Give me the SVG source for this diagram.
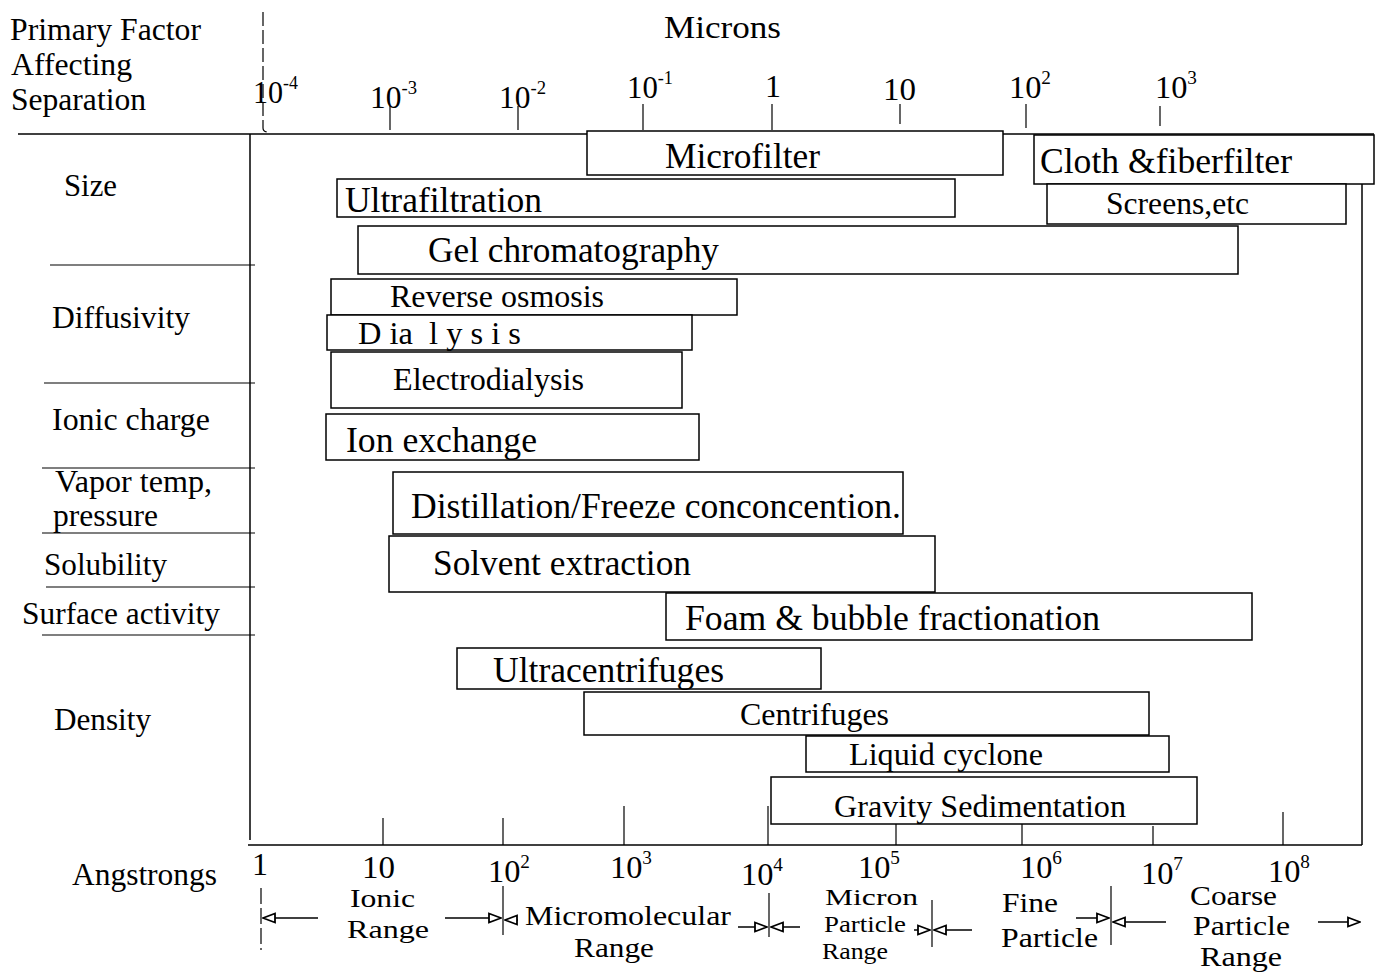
<svg xmlns="http://www.w3.org/2000/svg" width="1379" height="973" viewBox="0 0 1379 973">
<style>
text{font-family:"Liberation Serif","Times New Roman",serif;fill:#000}
.lbl{font-size:31px}
.box{fill:#fff;stroke:#000;stroke-width:1.5}
.bt{font-size:35px}
.bs{font-size:31px}
.ax{stroke:#000;stroke-width:1.5;fill:none}
.tk{stroke:#000;stroke-width:1.2;fill:none}
.ar{stroke:#000;stroke-width:1.5;fill:none;marker-end:url(#oh)}
.tl{font-size:32px}
.rl{font-size:28px}
.rs{font-size:26px}
.rx{font-size:24px}
.sup{font-size:19px}
</style>
<defs>
<marker id="oh" viewBox="0 0 14 12" refX="13" refY="6" markerWidth="14" markerHeight="12" markerUnits="userSpaceOnUse" orient="auto">
<path d="M1,1.5 L13,6 L1,10.5 Z" fill="#fff" stroke="#000" stroke-width="1.8"/>
</marker>
</defs>
<rect width="1379" height="973" fill="#fff"/>

<g id="frame">
<line class="ax" x1="18" y1="134" x2="1374" y2="134"/>
<line class="ax" x1="250" y1="134" x2="250" y2="840"/>
<line class="ax" x1="1362" y1="184" x2="1362" y2="845"/>
<line class="ax" x1="248" y1="845" x2="1362" y2="845"/>
<line class="tk" x1="50" y1="265" x2="255" y2="265"/>
<line class="tk" x1="44" y1="383" x2="255" y2="383"/>
<line class="tk" x1="42" y1="468" x2="255" y2="468"/>
<line class="tk" x1="42" y1="533" x2="255" y2="533"/>
<line class="tk" x1="46" y1="587" x2="255" y2="587"/>
<line class="tk" x1="42" y1="635" x2="255" y2="635"/>
<path class="tk" d="M263,12 L263,128 Q263,132 268,132" stroke-dasharray="14,4"/>
<line class="tk" x1="390" y1="106" x2="390" y2="130"/>
<line class="tk" x1="518" y1="106" x2="518" y2="130"/>
<line class="tk" x1="643" y1="104" x2="643" y2="130"/>
<line class="tk" x1="772" y1="104" x2="772" y2="130"/>
<line class="tk" x1="900" y1="104" x2="900" y2="124"/>
<line class="tk" x1="1026" y1="104" x2="1026" y2="128"/>
<line class="tk" x1="1160" y1="106" x2="1160" y2="126"/>
<line class="tk" x1="383" y1="818" x2="383" y2="845"/>
<line class="tk" x1="503" y1="818" x2="503" y2="845"/>
<line class="tk" x1="624" y1="806" x2="624" y2="845"/>
<line class="tk" x1="768" y1="806" x2="768" y2="845"/>
<line class="tk" x1="896" y1="812" x2="896" y2="845"/>
<line class="tk" x1="1022" y1="812" x2="1022" y2="845"/>
<line class="tk" x1="1153" y1="826" x2="1153" y2="845"/>
<line class="tk" x1="1283" y1="812" x2="1283" y2="845"/>
</g>

<g id="headers">
<text class="lbl" x="10" y="40" textLength="191" lengthAdjust="spacingAndGlyphs">Primary Factor</text>
<text class="lbl" x="11" y="75" textLength="121" lengthAdjust="spacingAndGlyphs">Affecting</text>
<text class="lbl" x="11" y="110" textLength="135" lengthAdjust="spacingAndGlyphs">Separation</text>
<text class="tl" x="664" y="38" textLength="117" lengthAdjust="spacingAndGlyphs">Microns</text>
<text class="lbl" x="72" y="885" textLength="145" lengthAdjust="spacingAndGlyphs">Angstrongs</text>
</g>

<g id="factors">
<text class="lbl" x="64" y="196" textLength="53" lengthAdjust="spacingAndGlyphs">Size</text>
<text class="lbl" x="52" y="328" textLength="138" lengthAdjust="spacingAndGlyphs">Diffusivity</text>
<text class="lbl" x="52" y="430" textLength="158" lengthAdjust="spacingAndGlyphs">Ionic charge</text>
<text class="lbl" x="55" y="492" textLength="157" lengthAdjust="spacingAndGlyphs">Vapor temp,</text>
<text class="lbl" x="53" y="526" textLength="105" lengthAdjust="spacingAndGlyphs">pressure</text>
<text class="lbl" x="44" y="575" textLength="123" lengthAdjust="spacingAndGlyphs">Solubility</text>
<text class="lbl" x="22" y="624" textLength="198" lengthAdjust="spacingAndGlyphs">Surface activity</text>
<text class="lbl" x="54" y="730" textLength="97" lengthAdjust="spacingAndGlyphs">Density</text>
</g>

<g id="micron-scale">
<text class="tl" x="253" y="103" textLength="45" lengthAdjust="spacingAndGlyphs">10<tspan class="sup" dy="-14">-4</tspan></text>
<text class="tl" x="370" y="108" textLength="47" lengthAdjust="spacingAndGlyphs">10<tspan class="sup" dy="-14">-3</tspan></text>
<text class="tl" x="499" y="108" textLength="47" lengthAdjust="spacingAndGlyphs">10<tspan class="sup" dy="-14">-2</tspan></text>
<text class="tl" x="627" y="98" textLength="46" lengthAdjust="spacingAndGlyphs">10<tspan class="sup" dy="-14">-1</tspan></text>
<text class="tl" x="765" y="97">1</text>
<text class="tl" x="883" y="100" textLength="33" lengthAdjust="spacingAndGlyphs">10</text>
<text class="tl" x="1009" y="98" textLength="42" lengthAdjust="spacingAndGlyphs">10<tspan class="sup" dy="-14">2</tspan></text>
<text class="tl" x="1155" y="98" textLength="42" lengthAdjust="spacingAndGlyphs">10<tspan class="sup" dy="-14">3</tspan></text>
</g>

<g id="angstrom-scale">
<text class="tl" x="252" y="875">1</text>
<text class="tl" x="362" y="878" textLength="33" lengthAdjust="spacingAndGlyphs">10</text>
<text class="tl" x="488" y="882" textLength="42" lengthAdjust="spacingAndGlyphs">10<tspan class="sup" dy="-14">2</tspan></text>
<text class="tl" x="610" y="878" textLength="42" lengthAdjust="spacingAndGlyphs">10<tspan class="sup" dy="-14">3</tspan></text>
<text class="tl" x="741" y="885" textLength="42" lengthAdjust="spacingAndGlyphs">10<tspan class="sup" dy="-14">4</tspan></text>
<text class="tl" x="858" y="878" textLength="42" lengthAdjust="spacingAndGlyphs">10<tspan class="sup" dy="-14">5</tspan></text>
<text class="tl" x="1020" y="878" textLength="42" lengthAdjust="spacingAndGlyphs">10<tspan class="sup" dy="-14">6</tspan></text>
<text class="tl" x="1141" y="884" textLength="42" lengthAdjust="spacingAndGlyphs">10<tspan class="sup" dy="-14">7</tspan></text>
<text class="tl" x="1268" y="882" textLength="42" lengthAdjust="spacingAndGlyphs">10<tspan class="sup" dy="-14">8</tspan></text>
</g>

<g id="microfilter"><rect class="box" x="587" y="131" width="416" height="44"/><text class="bt" x="665" y="168" textLength="155" lengthAdjust="spacingAndGlyphs">Microfilter</text></g>
<g id="cloth-fiberfilter"><rect class="box" x="1034" y="135" width="340" height="49"/><text class="bt" x="1040" y="173" textLength="252" lengthAdjust="spacingAndGlyphs">Cloth &amp;fiberfilter</text></g>
<g id="screens"><rect class="box" x="1047" y="184" width="299" height="40"/><text class="bs" x="1106" y="214" textLength="143" lengthAdjust="spacingAndGlyphs">Screens,etc</text></g>
<g id="ultrafiltration"><rect class="box" x="337" y="179" width="618" height="38"/><text class="bt" x="345" y="212" textLength="197" lengthAdjust="spacingAndGlyphs">Ultrafiltration</text></g>
<g id="gel-chromatography"><rect class="box" x="358" y="226" width="880" height="48"/><text class="bt" x="428" y="262" textLength="291" lengthAdjust="spacingAndGlyphs">Gel chromatography</text></g>
<g id="reverse-osmosis"><rect class="box" x="331" y="279" width="406" height="36"/><text class="bs" x="390" y="307" textLength="214" lengthAdjust="spacingAndGlyphs">Reverse osmosis</text></g>
<g id="dialysis"><rect class="box" x="327" y="315" width="365" height="35"/><text class="bs" x="358" y="344" textLength="163" lengthAdjust="spacingAndGlyphs" xml:space="preserve">D ia  l y s i s</text></g>
<g id="electrodialysis"><rect class="box" x="331" y="352" width="351" height="56"/><text class="bs" x="393" y="390" textLength="191" lengthAdjust="spacingAndGlyphs">Electrodialysis</text></g>
<g id="ion-exchange"><rect class="box" x="326" y="414" width="373" height="46"/><text class="bt" x="346" y="452" textLength="191" lengthAdjust="spacingAndGlyphs">Ion exchange</text></g>
<g id="distillation"><rect class="box" x="393" y="472" width="510" height="62"/><text class="bt" x="411" y="518" textLength="490" lengthAdjust="spacingAndGlyphs">Distillation/Freeze conconcention.</text></g>
<g id="solvent-extraction"><rect class="box" x="389" y="536" width="546" height="56"/><text class="bt" x="433" y="575" textLength="258" lengthAdjust="spacingAndGlyphs">Solvent extraction</text></g>
<g id="foam-bubble"><rect class="box" x="666" y="593" width="586" height="47"/><text class="bt" x="685" y="630" textLength="415" lengthAdjust="spacingAndGlyphs">Foam &amp; bubble fractionation</text></g>
<g id="ultracentrifuges"><rect class="box" x="457" y="648" width="364" height="41"/><text class="bt" x="493" y="682" textLength="231" lengthAdjust="spacingAndGlyphs">Ultracentrifuges</text></g>
<g id="centrifuges"><rect class="box" x="584" y="692" width="565" height="43"/><text class="bs" x="740" y="725" textLength="149" lengthAdjust="spacingAndGlyphs">Centrifuges</text></g>
<g id="liquid-cyclone"><rect class="box" x="806" y="736" width="363" height="36"/><text class="bs" x="849" y="765" textLength="194" lengthAdjust="spacingAndGlyphs">Liquid cyclone</text></g>
<g id="gravity-sedimentation"><rect class="box" x="771" y="777" width="426" height="47"/><text class="bs" x="834" y="817" textLength="292" lengthAdjust="spacingAndGlyphs">Gravity Sedimentation</text></g>

<g id="range-labels">
<text class="rs" x="350" y="907" textLength="65" lengthAdjust="spacingAndGlyphs">Ionic</text>
<text class="rs" x="347" y="938" textLength="82" lengthAdjust="spacingAndGlyphs">Range</text>
<text class="rl" x="525" y="925" textLength="206" lengthAdjust="spacingAndGlyphs">Micromolecular</text>
<text class="rl" x="574" y="957" textLength="80" lengthAdjust="spacingAndGlyphs">Range</text>
<text class="rx" x="825" y="905" textLength="93" lengthAdjust="spacingAndGlyphs">Micron</text>
<text class="rx" x="824" y="932" textLength="82" lengthAdjust="spacingAndGlyphs">Particle</text>
<text class="rx" x="822" y="959" textLength="66" lengthAdjust="spacingAndGlyphs">Range</text>
<text class="rl" x="1002" y="912" textLength="56" lengthAdjust="spacingAndGlyphs">Fine</text>
<text class="rl" x="1001" y="947" textLength="97" lengthAdjust="spacingAndGlyphs">Particle</text>
<text class="rl" x="1190" y="905" textLength="87" lengthAdjust="spacingAndGlyphs">Coarse</text>
<text class="rl" x="1193" y="935" textLength="97" lengthAdjust="spacingAndGlyphs">Particle</text>
<text class="rl" x="1200" y="966" textLength="82" lengthAdjust="spacingAndGlyphs">Range</text>
</g>

<g id="connectors">
<line class="tk" x1="261" y1="888" x2="261" y2="950" stroke-dasharray="16,4"/>
<line class="tk" x1="503" y1="886" x2="503" y2="935"/>
<line class="tk" x1="769" y1="893" x2="769" y2="937"/>
<line class="tk" x1="932" y1="900" x2="932" y2="947"/>
<line class="tk" x1="1111" y1="886" x2="1111" y2="945"/>
<path class="ar" d="M318,918 L263,918"/>
<path class="ar" d="M445,918 L501,918"/>
<path class="ar" d="M518,920 L505,920"/>
<path class="ar" d="M738,927 L767,927"/>
<path class="ar" d="M800,927 L771,927"/>
<path class="ar" d="M914,930 L930,930"/>
<path class="ar" d="M972,930 L934,930"/>
<path class="ar" d="M1076,918 L1109,918"/>
<path class="ar" d="M1166,922 L1113,922"/>
<path class="ar" d="M1318,922 L1360,922"/>
</g>
</svg>
